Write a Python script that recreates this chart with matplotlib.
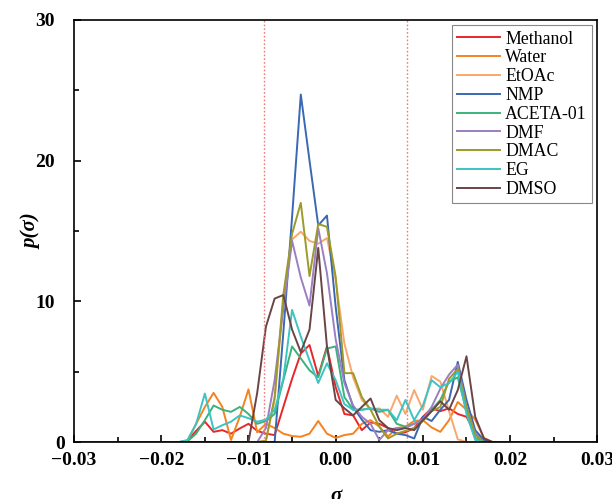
import numpy as np
import matplotlib
matplotlib.use("Agg")
import matplotlib.pyplot as plt
import matplotlib.transforms as mtransforms
from matplotlib.ticker import MultipleLocator

plt.rcParams['font.family'] = ['Liberation Serif', 'DejaVu Serif']

# sigma grid, -0.03 .. 0.03 step 0.001
sigma = np.round(np.arange(-30, 31) * 0.001, 3)

# values for sigma = -0.020 .. 0.020 (outside is zero)
methanol = [0, 0, 0, 0.1, 0.8, 1.45, 0.73, 0.85, 0.6, 0.97, 1.3, 0.8, 0.6, 0.5, 2.5, 4.5, 6.3, 6.9, 4.7, 6.8,
            3.9, 2.0, 1.9, 0.85, 1.4, 1.3, 1.0, 0.6, 0.7, 1.0, 1.8, 2.4, 2.2, 2.4, 2.0, 1.8, 0.6, 0.05, 0, 0, 0]
water = [0, 0, 0, 0.05, 1.3, 2.5, 3.5, 2.5, 0.15, 1.8, 3.75, 0.7, 1.3, 1.0, 0.6, 0.43, 0.38, 0.6, 1.5, 0.6,
         0.3, 0.5, 0.6, 1.3, 1.56, 1.1, 0.4, 1.0, 1.1, 1.5, 1.56, 1.04, 0.73, 1.56, 2.85, 2.3, 1.6, 0.3, 0, 0, 0]
etoac = [0, 0, 0, 0, 0, 0, 0, 0, 0, 0, 0, 0, 0.1, 3.0, 10.0, 14.4, 14.95, 14.3, 14.1, 14.5,
         11.5, 7.0, 4.6, 3.0, 2.3, 2.4, 1.8, 3.3, 2.0, 3.7, 2.3, 4.7, 4.3, 2.2, 0.2, 0, 0, 0, 0, 0, 0]
nmp = [0, 0, 0, 0, 0, 0, 0, 0, 0, 0, 0, 0, 0, 0, 7.8, 16.0, 24.7, 20.0, 15.4, 16.1,
       9.6, 4.4, 2.5, 1.6, 0.85, 0.73, 0.85, 0.6, 0.5, 0.26, 1.8, 1.5, 2.3, 3.0, 5.7, 3.0, 0.85, 0.15, 0, 0, 0]
aceta = [0, 0, 0, 0.05, 0.6, 1.56, 2.6, 2.3, 2.15, 2.5, 2.0, 1.3, 1.5, 2.0, 4.4, 6.8, 5.95, 5.1, 4.6, 6.65,
         6.8, 3.2, 2.3, 2.3, 2.4, 2.15, 2.3, 1.3, 1.1, 1.3, 1.6, 2.3, 3.0, 4.3, 4.6, 2.2, 0.3, 0, 0, 0, 0]
dmf = [0, 0, 0, 0, 0, 0, 0, 0, 0, 0, 0, 0, 1.0, 4.4, 9.5, 14.3, 11.7, 9.7, 15.2, 12.0,
       7.3, 4.2, 2.6, 1.8, 1.3, 0.15, 0.85, 1.0, 1.0, 1.3, 1.6, 2.5, 3.8, 4.8, 5.5, 2.5, 0.6, 0, 0, 0, 0]
dmac = [0, 0, 0, 0, 0, 0, 0, 0, 0, 0, 0, 0, 0.1, 3.2, 10.5, 14.8, 17.0, 11.8, 15.5, 15.3,
        11.75, 4.9, 4.9, 3.2, 2.3, 1.1, 0.26, 0.6, 0.8, 1.0, 1.5, 2.2, 2.5, 4.5, 5.2, 2.5, 0.5, 0, 0, 0, 0]
eg = [0, 0, 0, 0.15, 1.3, 3.45, 0.9, 1.2, 1.45, 1.9, 1.7, 1.45, 1.6, 2.3, 4.5, 9.4, 7.5, 5.8, 4.2, 5.6,
      4.4, 2.7, 2.3, 2.3, 2.4, 2.3, 2.3, 1.56, 3.0, 1.56, 2.6, 4.4, 3.9, 4.2, 5.0, 2.0, 0.15, 0, 0, 0, 0]
dmso = [0, 0, 0, 0, 0, 0, 0, 0, 0, 0, 0, 3.5, 8.2, 10.2, 10.45, 8.0, 6.4, 8.0, 13.8, 6.8,
        3.0, 2.4, 1.9, 2.5, 3.1, 1.56, 1.0, 0.85, 1.0, 0.85, 1.56, 2.2, 2.9, 2.3, 3.7, 6.1, 1.8, 0.26, 0, 0, 0]

names = ["Methanol", "Water", "EtOAc", "NMP", "ACETA-01", "DMF", "DMAC", "EG", "DMSO"]
series = [methanol, water, etoac, nmp, aceta, dmf, dmac, eg, dmso]
colors = ["#e8262a", "#f5821f", "#f9a76c", "#3a68b4", "#3cb27b", "#9a7fc2", "#9c9a28", "#3cc3c3", "#6b4446"]

cutoff = 0.0082

fig = plt.figure(figsize=(6.12, 4.99), dpi=100)
ax = fig.add_axes([0.121, 0.114, 0.855, 0.846])

for name, vals, c in zip(names, series, colors):
    y = np.concatenate([np.zeros(10), vals, np.zeros(10)])
    ax.plot(sigma, y, color=c, lw=1.4, label=name)

ax.axvline(-cutoff, color="#f07a7a", lw=1.0, ls=(0, (1.2, 1.5)))
ax.axvline(cutoff, color="#f07a7a", lw=1.0, ls=(0, (1.2, 1.5)))

ax.set_xlim(-0.03, 0.03)
ax.set_ylim(0, 30)
ax.xaxis.set_major_locator(MultipleLocator(0.01))
ax.xaxis.set_minor_locator(MultipleLocator(0.005))
ax.yaxis.set_major_locator(MultipleLocator(10))
ax.yaxis.set_minor_locator(MultipleLocator(5))
ax.xaxis.set_major_formatter(plt.FuncFormatter(lambda v, p: f"{v:.2f}".replace("-", "\u2212")))
ax.tick_params(which="both", direction="in", top=False, right=False, width=1.2)
ax.tick_params(which="major", length=5)
ax.tick_params(which="minor", length=3.5)
ax.tick_params(axis="x", which="major", pad=7)
ax.tick_params(axis="y", which="major", pad=14)
for lab in ax.get_xticklabels() + ax.get_yticklabels():
    lab.set_fontweight("bold")
    lab.set_fontsize(14)
for sp in ax.spines.values():
    sp.set_linewidth(1.2)

ax.set_ylabel("p(σ)", fontsize=15, fontweight="bold", fontstyle="italic")
ax.yaxis.set_label_coords(-0.063, 0.5)
ax.set_xlabel("σ", fontsize=15, fontweight="bold", fontstyle="italic", labelpad=12)

leg = ax.legend(loc="upper right", fontsize=12.8, frameon=True, fancybox=False,
                edgecolor="#888888", framealpha=1, handlelength=2.4, labelspacing=0.1,
                borderaxespad=0.3, handletextpad=0.3, borderpad=0.3)
leg.get_frame().set_linewidth(0.8)

# the "0" label sits closer to the axis in the original
fig.canvas.draw()
for tick in ax.yaxis.get_major_ticks():
    if tick.label1.get_text() == "0":
        tick.label1.set_transform(tick.label1.get_transform() +
                                  mtransforms.ScaledTranslation(0.10, 0, fig.dpi_scale_trans))

fig.savefig("out.png", dpi=100)
